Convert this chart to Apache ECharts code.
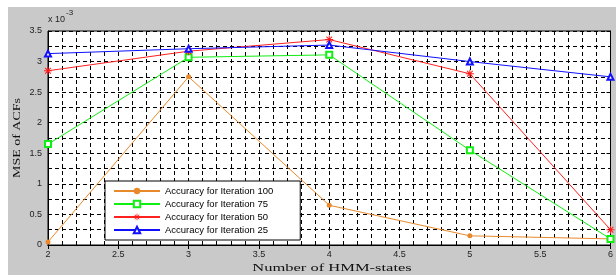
<!DOCTYPE html>
<html>
<head>
<meta charset="utf-8">
<script src="https://cdn.jsdelivr.net/npm/echarts@6/dist/echarts.min.js"></script>
<style>
  html, body { margin: 0; padding: 0; background: #fff; }
  #chart {
    width: 616px; height: 275px;
    background: linear-gradient(#c9c9c9, #c9c9c9) 8px 7px / 608px 268px no-repeat, #fff;
  }
</style>
</head>
<body>
<div id="chart"></div>
<script>
// data (MSE values are x 10^-3)
var states = [2, 3, 4, 5, 6];
var iter100 = [0.05, 2.75, 0.65, 0.15, 0.10];
var iter75 = [1.65, 3.07, 3.11, 1.55, 0.10];
var iter50 = [2.85, 3.17, 3.36, 2.80, 0.25];
var iter25 = [3.13, 3.21, 3.27, 3.00, 2.75];
var seriesNames = ['Accuracy for Iteration 100', 'Accuracy for Iteration 75',
  'Accuracy for Iteration 50', 'Accuracy for Iteration 25'];

function pairs(ys) {
  return states.map(function (x, i) { return [x, ys[i]]; });
}

// asterisk marker like matlab '*'
var star = 'path://M-1,-8h2v16h-2zM-8,-1h16v2h-16z' +
  'M-6.4,-5L-5,-6.4L6.4,5L5,6.4z' +
  'M-6.4,5L5,-6.4L6.4,-5L-5,6.4z';

var chart = echarts.init(document.getElementById('chart'));

var dashed = { show: true, lineStyle: { color: '#000', width: 1, type: [4, 3] } };
var tickFont = { color: '#222', fontSize: 9, fontFamily: 'Liberation Sans, Arial, sans-serif' };

var option = {
  animation: false,
  grid: {
    left: 48, top: 31, right: 2, bottom: 30,
    show: true, backgroundColor: '#fff', borderColor: '#000', borderWidth: 1
  },
  xAxis: [{
    type: 'value', min: 2, max: 6, interval: 0.5,
    axisLine: { lineStyle: { color: '#000' } },
    axisTick: { inside: true, length: 4, lineStyle: { color: '#000' } },
    axisLabel: Object.assign({ margin: 5 }, tickFont),
    splitLine: dashed,
    minorTick: { show: false, splitNumber: 5 },
    minorSplitLine: dashed
  }, {
    type: 'value', min: 2, max: 6, interval: 0.5, position: 'top',
    axisLine: { lineStyle: { color: '#000' } },
    axisTick: { inside: true, length: 4, lineStyle: { color: '#000' } },
    axisLabel: { show: false }, splitLine: { show: false }
  }],
  yAxis: [{
    type: 'value', min: 0, max: 3.5, interval: 0.5,
    axisLine: { show: true, lineStyle: { color: '#000' } },
    axisTick: { show: true, inside: true, length: 4, lineStyle: { color: '#000' } },
    axisLabel: Object.assign({ margin: 6 }, tickFont),
    splitLine: dashed,
    minorTick: { show: false, splitNumber: 2 },
    minorSplitLine: dashed
  }, {
    type: 'value', min: 0, max: 3.5, interval: 0.5, position: 'right',
    axisLine: { show: true, lineStyle: { color: '#000' } },
    axisTick: { show: true, inside: true, length: 4, lineStyle: { color: '#000' } },
    axisLabel: { show: false }, splitLine: { show: false }
  }],
  legend: {
    orient: 'vertical',
    left: 105, top: 181,
    padding: [5, 27, 5, 8],
    itemWidth: 46, itemHeight: 8, itemGap: 3,
    backgroundColor: '#fff', borderColor: '#000', borderWidth: 1, borderRadius: 0,
    textStyle: { color: '#000', fontSize: 9.5, lineHeight: 10, fontFamily: 'Liberation Sans, Arial, sans-serif' },
    data: seriesNames
  },
  series: [
    {
      name: seriesNames[0], type: 'line', data: pairs(iter100),
      symbol: 'circle', symbolSize: 5,
      itemStyle: { color: '#e8892b' }, lineStyle: { width: 1, color: '#e8892b' }
    },
    {
      name: seriesNames[1], type: 'line', data: pairs(iter75),
      symbol: 'emptyRect', symbolSize: 6,
      itemStyle: { color: '#11ee11', borderWidth: 1 }, lineStyle: { width: 1, color: '#11ee11' }
    },
    {
      name: seriesNames[2], type: 'line', data: pairs(iter50),
      symbol: star, symbolSize: 8,
      itemStyle: { color: '#ff1a1a' }, lineStyle: { width: 1, color: '#ff2020' }
    },
    {
      name: seriesNames[3], type: 'line', data: pairs(iter25),
      symbol: 'emptyTriangle', symbolSize: 6,
      itemStyle: { color: '#1010ff', borderWidth: 1 }, lineStyle: { width: 1, color: '#1010ff' }
    }
  ],
  graphic: [
    {
      type: 'text', x: 332, y: 268, scaleX: 1.5,
      style: { text: 'Number of HMM-states', fill: '#111', font: '11px "Liberation Serif", "Times New Roman", serif',
        textAlign: 'center', textVerticalAlign: 'middle' }
    },
    {
      type: 'text', x: 17, y: 138, rotation: Math.PI / 2, scaleX: 1.27,
      style: { text: 'MSE of ACFs', fill: '#111', font: '11px "Liberation Serif", "Times New Roman", serif',
        textAlign: 'center', textVerticalAlign: 'middle' }
    },
    {
      type: 'text', x: 48, y: 24,
      style: { text: 'x 10', fill: '#222', font: '9px "Liberation Sans", Arial, sans-serif',
        textAlign: 'left', textVerticalAlign: 'bottom' }
    },
    {
      type: 'text', x: 66, y: 17,
      style: { text: '-3', fill: '#222', font: '8px "Liberation Sans", Arial, sans-serif',
        textAlign: 'left', textVerticalAlign: 'bottom' }
    }
  ]
};

chart.setOption(option);
</script>
</body>
</html>
